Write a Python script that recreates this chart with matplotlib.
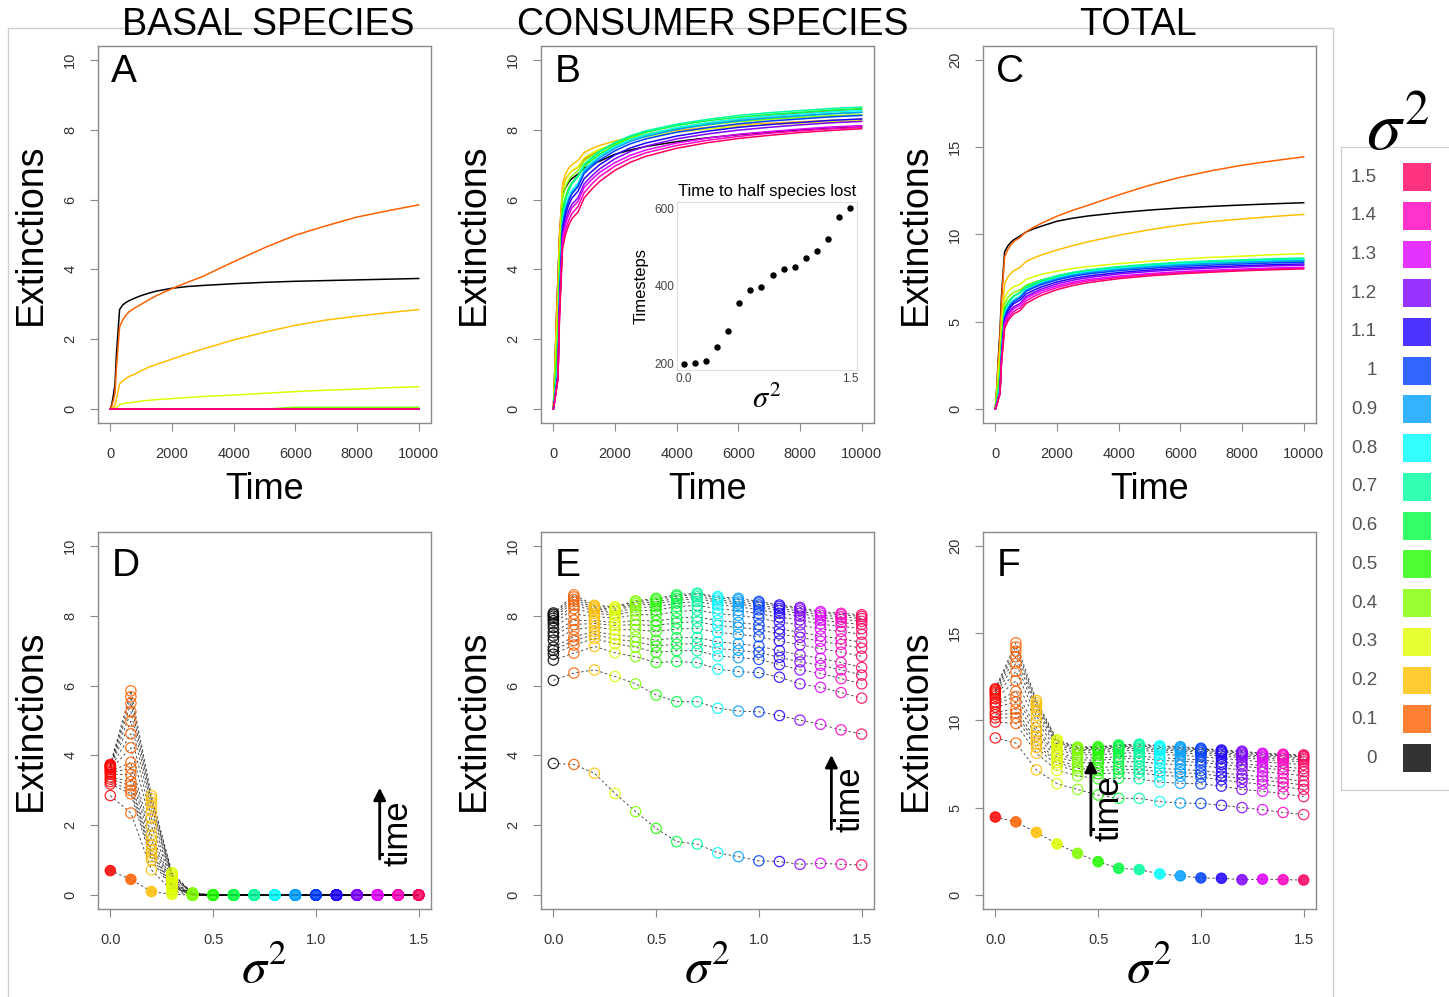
import colorsys
import numpy as np
import matplotlib.pyplot as plt

plt.rcParams['font.family'] = ['Liberation Sans', 'DejaVu Sans']
plt.rcParams['mathtext.fontset'] = 'stix'

W, H = 1449, 997

# niveles de varianza
sigma2 = [0.0, 0.1, 0.2, 0.3, 0.4, 0.5, 0.6, 0.7, 0.8, 0.9, 1.0, 1.1, 1.2, 1.3, 1.4, 1.5]
legend_labels = ["0", "0.1", "0.2", "0.3", "0.4", "0.5", "0.6", "0.7", "0.8", "0.9",
                 "1", "1.1", "1.2", "1.3", "1.4", "1.5"]

# instantes de las curvas y de los puntos (paneles D-F)
time_steps = [0, 50, 100, 150, 200, 300, 400, 500, 600, 800, 1000, 1250, 1500,
              2000, 2500, 3000, 4000, 5000, 6000, 7000, 8000, 9000, 10000]
snap_times = [150, 300, 800, 1000, 1250, 1500, 2000, 2500, 3000, 4000, 5000,
              6000, 7000, 8000, 9000, 10000]

# extinciones de especies basales (una fila por sigma^2)
basal = [
    [0, 0.15, 0.4, 0.70, 1.6, 2.85, 2.98, 3.05, 3.1, 3.18, 3.25, 3.32, 3.38, 3.46, 3.51, 3.54, 3.59, 3.63, 3.66, 3.68, 3.70, 3.72, 3.74],
    [0, 0.1, 0.25, 0.45, 1.2, 2.35, 2.55, 2.68, 2.78, 2.90, 3.00, 3.13, 3.25, 3.45, 3.63, 3.80, 4.22, 4.62, 4.98, 5.25, 5.50, 5.68, 5.85],
    [0, 0.02, 0.05, 0.10, 0.3, 0.72, 0.8, 0.87, 0.93, 1.00, 1.10, 1.2, 1.28, 1.43, 1.58, 1.72, 1.98, 2.20, 2.40, 2.55, 2.66, 2.76, 2.85],
    [0, 0, 0.01, 0.02, 0.05, 0.12, 0.15, 0.17, 0.18, 0.20, 0.23, 0.25, 0.27, 0.30, 0.33, 0.36, 0.40, 0.45, 0.50, 0.54, 0.57, 0.61, 0.64],
    [0, 0, 0, 0, 0, 0, 0, 0, 0, 0, 0, 0, 0, 0, 0, 0, 0, 0, 0.05, 0.05, 0.05, 0.05, 0.05],
    [0, 0, 0, 0, 0, 0, 0, 0, 0, 0, 0, 0, 0, 0, 0, 0, 0, 0, 0, 0, 0, 0, 0],
    [0, 0, 0, 0, 0, 0, 0, 0, 0, 0, 0, 0, 0, 0, 0, 0, 0, 0, 0, 0, 0, 0, 0],
    [0, 0, 0, 0, 0, 0, 0, 0, 0, 0, 0, 0, 0, 0, 0, 0, 0, 0, 0, 0, 0, 0, 0],
    [0, 0, 0, 0, 0, 0, 0, 0, 0, 0, 0, 0, 0, 0, 0, 0, 0, 0, 0, 0, 0, 0, 0],
    [0, 0, 0, 0, 0, 0, 0, 0, 0, 0, 0, 0, 0, 0, 0, 0, 0, 0, 0, 0, 0, 0, 0],
    [0, 0, 0, 0, 0, 0, 0, 0, 0, 0, 0, 0, 0, 0, 0, 0, 0, 0, 0, 0, 0, 0, 0],
    [0, 0, 0, 0, 0, 0, 0, 0, 0, 0, 0, 0, 0, 0, 0, 0, 0, 0, 0, 0, 0, 0, 0],
    [0, 0, 0, 0, 0, 0, 0, 0, 0, 0, 0, 0, 0, 0, 0, 0, 0, 0, 0, 0, 0, 0, 0],
    [0, 0, 0, 0, 0, 0, 0, 0, 0, 0, 0, 0, 0, 0, 0, 0, 0, 0, 0, 0, 0, 0, 0],
    [0, 0, 0, 0, 0, 0, 0, 0, 0, 0, 0, 0, 0, 0, 0, 0, 0, 0, 0, 0, 0, 0, 0],
    [0, 0, 0, 0, 0, 0, 0, 0, 0, 0, 0, 0, 0, 0, 0, 0, 0, 0, 0, 0, 0, 0, 0],
]

# extinciones de consumidores
consumer = [
    [0, 1.2, 2.6, 3.77, 4.9, 6.15, 6.35, 6.5, 6.6, 6.73, 6.90, 7.01, 7.10, 7.30, 7.42, 7.52, 7.66, 7.77, 7.86, 7.93, 7.99, 8.04, 8.08],
    [0, 1.2, 2.6, 3.74, 5.0, 6.36, 6.58, 6.72, 6.82, 6.93, 7.16, 7.29, 7.40, 7.60, 7.75, 7.87, 8.05, 8.20, 8.30, 8.40, 8.47, 8.54, 8.60],
    [0, 1.1, 2.4, 3.49, 4.9, 6.45, 6.75, 6.9, 7.0, 7.12, 7.35, 7.46, 7.55, 7.68, 7.78, 7.86, 7.98, 8.07, 8.14, 8.19, 8.23, 8.27, 8.30],
    [0, 0.9, 2.0, 2.91, 4.5, 6.26, 6.55, 6.72, 6.83, 6.94, 7.20, 7.33, 7.45, 7.60, 7.72, 7.80, 7.93, 8.02, 8.09, 8.15, 8.19, 8.23, 8.26],
    [0, 0.7, 1.6, 2.39, 4.2, 6.05, 6.38, 6.56, 6.68, 6.83, 7.10, 7.26, 7.40, 7.60, 7.75, 7.87, 8.03, 8.14, 8.23, 8.30, 8.35, 8.40, 8.43],
    [0, 0.55, 1.25, 1.91, 3.8, 5.73, 6.1, 6.33, 6.48, 6.66, 6.95, 7.13, 7.30, 7.55, 7.72, 7.85, 8.03, 8.16, 8.26, 8.34, 8.40, 8.46, 8.50],
    [0, 0.45, 1.0, 1.53, 3.5, 5.54, 6.0, 6.28, 6.47, 6.69, 7.00, 7.19, 7.37, 7.62, 7.80, 7.93, 8.12, 8.26, 8.36, 8.44, 8.50, 8.56, 8.60],
    [0, 0.43, 0.95, 1.46, 3.45, 5.54, 5.99, 6.26, 6.45, 6.66, 7.00, 7.2, 7.38, 7.64, 7.83, 7.97, 8.16, 8.30, 8.41, 8.49, 8.55, 8.61, 8.65],
    [0, 0.35, 0.8, 1.21, 3.2, 5.35, 5.8, 6.07, 6.26, 6.47, 6.85, 7.06, 7.25, 7.52, 7.72, 7.86, 8.06, 8.20, 8.31, 8.39, 8.45, 8.51, 8.55],
    [0, 0.32, 0.72, 1.10, 3.1, 5.27, 5.72, 6.0, 6.19, 6.40, 6.80, 7.01, 7.20, 7.47, 7.67, 7.81, 8.01, 8.15, 8.26, 8.34, 8.40, 8.46, 8.50],
    [0, 0.28, 0.64, 0.98, 3.0, 5.25, 5.7, 5.97, 6.16, 6.37, 6.75, 6.95, 7.13, 7.40, 7.60, 7.74, 7.93, 8.06, 8.17, 8.25, 8.31, 8.37, 8.41],
    [0, 0.28, 0.63, 0.96, 2.95, 5.14, 5.58, 5.85, 6.04, 6.24, 6.60, 6.81, 7.00, 7.28, 7.48, 7.62, 7.82, 7.96, 8.07, 8.15, 8.21, 8.27, 8.31],
    [0, 0.26, 0.58, 0.88, 2.85, 5.01, 5.43, 5.68, 5.86, 6.05, 6.45, 6.68, 6.88, 7.17, 7.38, 7.53, 7.74, 7.88, 7.99, 8.07, 8.14, 8.20, 8.24],
    [0, 0.27, 0.6, 0.91, 2.8, 4.89, 5.32, 5.57, 5.76, 5.95, 6.35, 6.58, 6.78, 7.06, 7.27, 7.42, 7.62, 7.76, 7.87, 7.95, 8.02, 8.08, 8.12],
    [0, 0.26, 0.58, 0.88, 2.7, 4.73, 5.16, 5.41, 5.6, 5.80, 6.20, 6.45, 6.66, 6.96, 7.18, 7.34, 7.55, 7.70, 7.81, 7.90, 7.97, 8.03, 8.07],
    [0, 0.25, 0.57, 0.86, 2.6, 4.61, 5.02, 5.27, 5.45, 5.64, 6.05, 6.3, 6.52, 6.84, 7.07, 7.24, 7.47, 7.63, 7.75, 7.84, 7.92, 7.98, 8.03],
]

# recuadro: tiempo hasta perder la mitad de especies
half_time = [200, 202, 208, 243, 285, 357, 390, 398, 429, 443, 450, 472, 491, 522, 577, 600]

basal = np.array(basal)
consumer = np.array(consumer)
total = basal + consumer
snap_idx = [time_steps.index(t) for t in snap_times]


def rainbow(i):
    return colorsys.hsv_to_rgb(i / 16, 1, 1)


line_cols = ['black'] + [rainbow(i) for i in range(1, 16)]
red_cols = [rainbow(0)] + [rainbow(i) for i in range(1, 16)]

fig = plt.figure(figsize=(W / 100, H / 100), dpi=100)

# marco exterior gris
fig.add_artist(plt.Rectangle((8 / W, -0.01), (1333 - 8) / W, 1 - 28 / H + 0.01,
                             transform=fig.transFigure, fill=False, ec='#cfcfcf', lw=1))


def px_axes(left, top, right, bottom):
    return fig.add_axes([left / W, 1 - bottom / H, (right - left) / W, (bottom - top) / H])


def style(ax, yticks):
    for s in ax.spines.values():
        s.set_color('#8a8a8a')
        s.set_linewidth(1.0)
    ax.tick_params(colors='#8a8a8a', labelcolor='#333333', length=6, width=0.8, labelsize=10.5)
    ax.tick_params(axis='y', pad=9)
    ax.tick_params(axis='x', pad=11)
    ax.set_yticks(yticks)
    for lab in ax.get_yticklabels():
        lab.set_rotation(90)
        lab.set_va('center')
    ax.set_ylabel("Extinctions", fontsize=27, labelpad=10)


lefts = [98, 541, 983]
panel_data = [basal, consumer, total]
ymaxes = [10, 10, 20]
letters_top = ['A', 'B', 'C']
letters_bot = ['D', 'E', 'F']
titles = ['BASAL SPECIES', 'CONSUMER SPECIES', 'TOTAL']
title_x = [268, 713, 1138]

for j in range(3):
    ymax = ymaxes[j]
    yt = list(range(0, ymax + 1, 2 if ymax == 10 else 5))
    data = panel_data[j]

    # fila superior: series temporales
    ax = px_axes(lefts[j], 46, lefts[j] + 333, 423)
    for i in range(16):
        ax.plot(time_steps, data[i], color=line_cols[i], lw=1.1)
    ax.set_xlim(-400, 10400)
    ax.set_ylim(-0.04 * ymax, 1.04 * ymax)
    ax.set_xticks([0, 2000, 4000, 6000, 8000, 10000])
    style(ax, yt)
    ax.set_xlabel("Time", fontsize=26, labelpad=8)
    ax.text(0.04, 0.93, letters_top[j], transform=ax.transAxes, fontsize=28, va='center')
    fig.text(title_x[j] / W, 1 - 25 / H, titles[j], ha='center', va='center', fontsize=27)

    if j == 1:
        ins = px_axes(677, 202, 857, 370)
        ins.scatter(sigma2, half_time, s=13, color='black', zorder=3)
        ins.set_xlim(-0.06, 1.56)
        ins.set_ylim(184, 616)
        ins.set_xticks([0, 1.5])
        ins.set_xticklabels(['0.0', '1.5'])
        ins.set_yticks([200, 400, 600])
        for s in ins.spines.values():
            s.set_color('#dddddd')
        ins.tick_params(length=0, pad=2, labelsize=8.5, labelcolor='#444444')
        ins.set_title("Time to half species lost", fontsize=12, pad=4)
        ins.set_ylabel("Timesteps", fontsize=12, labelpad=4)
        ins.set_xlabel(r'$\sigma^2$', fontsize=22, labelpad=0)

    # fila inferior: extinciones frente a sigma^2
    ax = px_axes(lefts[j], 532, lefts[j] + 333, 909)
    cols = line_cols if j == 1 else red_cols
    for n, k in enumerate(snap_idx):
        ax.plot(sigma2, data[:, k], ls=(0, (2.5, 2.5)), color='black', lw=0.7, alpha=0.7, zorder=2)
        face = cols if (n == 0 and j != 1) else 'none'
        ax.scatter(sigma2, data[:, k], s=55, facecolors=face, edgecolors=cols,
                   linewidths=0.9, alpha=0.85, zorder=3)
    ax.set_xlim(-0.06, 1.56)
    ax.set_ylim(-0.04 * ymax, 1.04 * ymax)
    ax.set_xticks([0, 0.5, 1.0, 1.5])
    ax.set_xticklabels(['0.0', '0.5', '1.0', '1.5'])
    style(ax, yt)
    ax.set_xlabel(r'$\sigma^2$', fontsize=36, labelpad=0)
    ax.text(0.04, 0.91, letters_bot[j], transform=ax.transAxes, fontsize=28, va='center')

    # flecha de tiempo
    arrow_x = [0.846, 0.872, 0.324][j]
    arrow_y = [(0.125, 0.329), (0.204, 0.416), (0.188, 0.403)][j]
    text_pos = [(0.90, 0.20), (0.927, 0.29), (0.378, 0.268)][j]
    ax.annotate('', xy=(arrow_x, arrow_y[1]), xytext=(arrow_x, arrow_y[0]),
                xycoords='axes fraction',
                arrowprops=dict(arrowstyle='-|>', lw=2, color='black', mutation_scale=18))
    ax.text(text_pos[0], text_pos[1], 'time', transform=ax.transAxes, rotation=90,
            fontsize=25, ha='center', va='center')

# leyenda
lg = px_axes(1341, 147, 1470, 790)
lg.barh(range(16), 0.22, left=0.48, height=0.72, color=line_cols, alpha=0.8)
for i in range(16):
    lg.text(0.28, i, legend_labels[i], ha='right', va='center', fontsize=13.5, color='#555555')
lg.set_xlim(0, 1)
lg.set_ylim(-0.826, 15.775)
lg.set_xticks([])
lg.set_yticks([])
for s in lg.spines.values():
    s.set_color('#cccccc')
    s.set_linewidth(0.8)
fig.text(1398 / W, 1 - 132 / H, r'$\sigma^2$', fontsize=50, ha='center', va='center')

fig.savefig('out.png', dpi=100)
